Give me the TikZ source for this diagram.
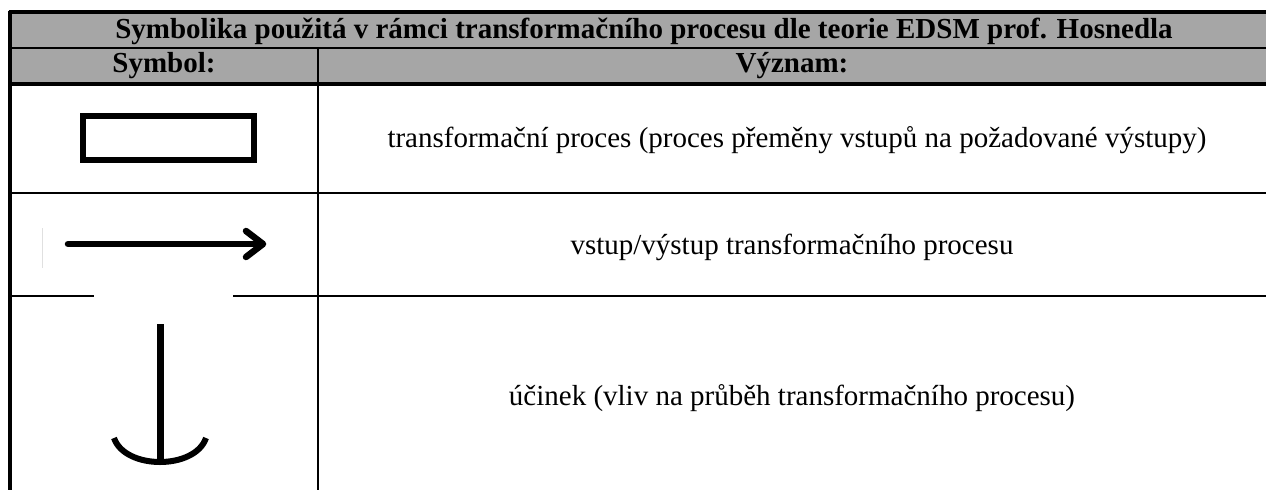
\documentclass[tikz,border=0pt]{standalone}
\usepackage{fontspec}
\setmainfont{Liberation Serif}
\definecolor{hlavicka}{RGB}{166,166,166}
\tikzset{
  symbol/.style={line width=6.5pt, line cap=round, line join=round},
  popis/.style={font=\fontsize{29}{33}\selectfont, inner sep=0pt},
  nadpis/.style={font=\bfseries\fontsize{29}{33}\selectfont, inner sep=0pt}
}
\begin{document}
\begin{tikzpicture}[x=1pt, y=-1pt]
\useasboundingbox (0,0) rectangle (1266,490);

% Hlavicka tabulky (sede pozadi)
\fill[hlavicka] (10,12) rectangle (1266,84);
\draw[line width=3.5pt] (8.5,12) -- (1266,12);
\draw[line width=1.2pt] (10,48) -- (1266,48);
\draw[line width=3.5pt] (10,84) -- (1266,84);

% Mrizka
\draw[line width=4pt] (10,10.5) -- (10,490);
\draw[line width=2pt] (318,48) -- (318,490);
\draw[line width=1.5pt] (10,193) -- (1266,193);
\draw[line width=2.2pt] (10,296) -- (1266,296);
\draw[white, line width=2.5pt] (94,296) -- (233,296);
\draw[black!12, line width=0.8pt] (42,228) -- (42,268);

% Texty hlavicky
\node[nadpis] (titul) at (644,31) {Symbolika použitá v rámci transformačního procesu dle teorie EDSM prof. Hosnedla};
\node[nadpis] (hsymbol) at (164,66) {Symbol:};
\node[nadpis] (hvyznam) at (792,66) {Význam:};

% Symbol 1 -- transformacni proces
\draw[line width=6pt] (83,116) rectangle (254,160);
\node[popis] (proces) at (797,140) {transformační proces (proces přeměny vstupů na požadované výstupy)};

% Symbol 2 -- vstup/vystup
\draw[symbol] (68,244) -- (262,244);
\draw[symbol] (246,231) -- (263,244) -- (246,257);
\node[popis] (vstup) at (792,247) {vstup/výstup transformačního procesu};

% Symbol 3 -- ucinek
\draw[line width=7pt] (160,324) -- (160,462);
\draw[line width=6pt] (114,438) .. controls (125,470) and (195,470) .. (206,438);
\node[popis] (ucinek) at (792,398) {účinek (vliv na průběh transformačního procesu)};

\end{tikzpicture}
\end{document}
